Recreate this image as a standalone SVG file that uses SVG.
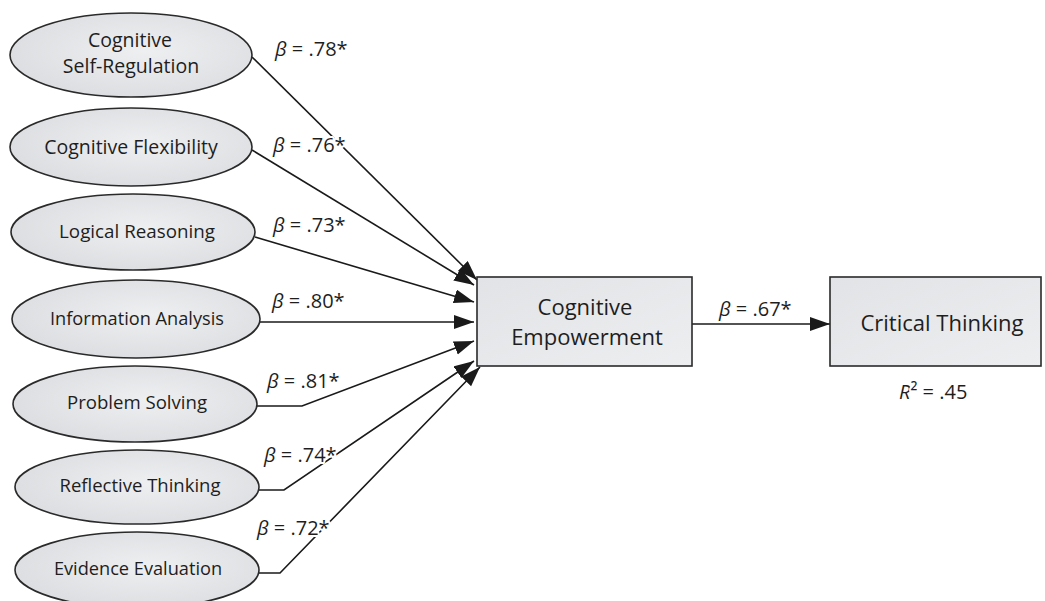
<svg xmlns="http://www.w3.org/2000/svg" width="1045" height="601" viewBox="0 0 1045 601">
  <defs>
    <radialGradient id="eg" cx="0.55" cy="0.45" r="0.6">
      <stop offset="0" stop-color="#eeeff1"/>
      <stop offset="1" stop-color="#dcdde0"/>
    </radialGradient>
    <linearGradient id="bg" x1="0" y1="0" x2="1" y2="1">
      <stop offset="0" stop-color="#e2e3e6"/>
      <stop offset="1" stop-color="#eceef0"/>
    </linearGradient>
    <marker id="arr" markerUnits="userSpaceOnUse" markerWidth="22" markerHeight="16" refX="20" refY="7" orient="auto">
      <path d="M0,0 L20,7 L0,14 Z" fill="#1a1a1a"/>
    </marker>
    <style>
      .ell { fill: url(#eg); stroke: #2a2a2a; stroke-width: 1.6; }
      .box { fill: url(#bg); stroke: #2a2a2a; stroke-width: 1.6; }
      .t { font-family: "Open Sans", "Noto Sans", "Liberation Sans", sans-serif; fill: #1e1e1e; text-anchor: middle; }
      .lbl { font-family: "Open Sans", "Noto Sans", "Liberation Sans", sans-serif; fill: #1e1e1e; font-size: 20px; paint-order: stroke; stroke: #ffffff; stroke-width: 4px; stroke-linejoin: round; }
      .b { font-style: italic; }
      .con { fill: none; stroke: #1a1a1a; stroke-width: 1.6; marker-end: url(#arr); }
    </style>
  </defs>
  <rect width="1045" height="601" fill="#ffffff"/>

  <g id="connectors">
    <polyline class="con" points="252,57 477,280"/>
    <polyline class="con" points="252,150 474,285"/>
    <polyline class="con" points="255,237 474,302"/>
    <polyline class="con" points="260,322 474,322"/>
    <polyline class="con" points="257,406 302,406 474,341"/>
    <polyline class="con" points="258,490 284,490 474,361"/>
    <polyline class="con" points="258,573 280,573 480,367"/>
    <polyline class="con" points="692,324 830,324"/>
  </g>

  <g id="node-self-regulation">
    <ellipse class="ell" cx="131" cy="55" rx="121" ry="42"/>
    <text class="t" x="130" y="47" font-size="19.5">Cognitive</text>
    <text class="t" x="131" y="73" font-size="19.5">Self-Regulation</text>
  </g>
  <g id="node-flexibility">
    <ellipse class="ell" cx="131" cy="147" rx="121" ry="39"/>
    <text class="t" x="131" y="154" font-size="19.5">Cognitive Flexibility</text>
  </g>
  <g id="node-logical">
    <ellipse class="ell" cx="133" cy="232" rx="122" ry="38"/>
    <text class="t" x="137" y="238" font-size="18.8">Logical Reasoning</text>
  </g>
  <g id="node-information">
    <ellipse class="ell" cx="136" cy="319" rx="124" ry="39"/>
    <text class="t" x="137" y="325" font-size="18.2">Information Analysis</text>
  </g>
  <g id="node-problem">
    <ellipse class="ell" cx="135" cy="404" rx="122" ry="38"/>
    <text class="t" x="137" y="409" font-size="18.6">Problem Solving</text>
  </g>
  <g id="node-reflective">
    <ellipse class="ell" cx="137" cy="487" rx="122" ry="37"/>
    <text class="t" x="140" y="492" font-size="18.5">Reflective Thinking</text>
  </g>
  <g id="node-evidence">
    <ellipse class="ell" cx="137" cy="570" rx="122" ry="38"/>
    <text class="t" x="138" y="575" font-size="18.2">Evidence Evaluation</text>
  </g>

  <g id="node-empowerment">
    <rect class="box" x="477" y="277" width="215" height="89"/>
    <text class="t" x="585" y="315" font-size="22">Cognitive</text>
    <text class="t" x="587" y="345" font-size="22">Empowerment</text>
  </g>
  <g id="node-critical">
    <rect class="box" x="830" y="277" width="211" height="89"/>
    <text class="t" x="942" y="331" font-size="22">Critical Thinking</text>
  </g>

  <g id="labels">
    <text class="lbl" x="275" y="56"><tspan class="b">β</tspan> = .78*</text>
    <text class="lbl" x="273" y="152"><tspan class="b">β</tspan> = .76*</text>
    <text class="lbl" x="273" y="232"><tspan class="b">β</tspan> = .73*</text>
    <text class="lbl" x="272" y="308"><tspan class="b">β</tspan> = .80*</text>
    <text class="lbl" x="267" y="388"><tspan class="b">β</tspan> = .81*</text>
    <text class="lbl" x="264" y="462"><tspan class="b">β</tspan> = .74*</text>
    <text class="lbl" x="257" y="535"><tspan class="b">β</tspan> = .72*</text>
    <text class="lbl" x="719" y="316"><tspan class="b">β</tspan> = .67*</text>
    <text class="lbl" x="899" y="399" font-size="21"><tspan class="b">R</tspan>² = .45</text>
  </g>
</svg>
